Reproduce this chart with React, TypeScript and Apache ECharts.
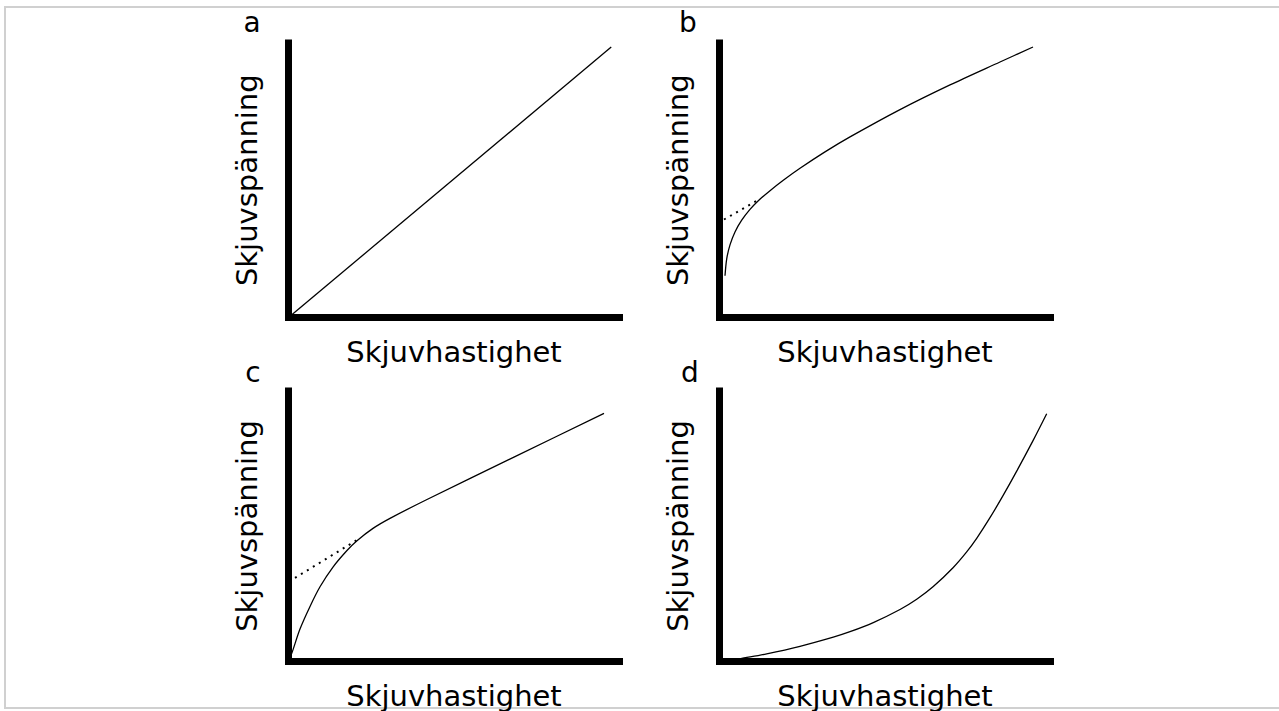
import React, { useEffect, useRef } from "react";
import * as echarts from "echarts";

const xAxisTitle = "Skjuvhastighet";
const yAxisTitle = "Skjuvspänning";
const panelLetters = ["a", "b", "c", "d"];

// Panel a: Newtonian (straight line)
const panelALine: number[][] = [
  [0, 0],
  [97.5, 98.5],
];

// Panel b: Herschel-Bulkley-like
const panelBCurve: number[][] = [
  [1.66, 15.19],
  [2.18, 21.38],
  [3.17, 26.45],
  [4.68, 31.18],
  [6.71, 35.45],
  [9.21, 39.38],
  [11.72, 42.55],
  [15.26, 46.19],
  [19.27, 49.98],
  [24.32, 54.35],
  [31.87, 60.33],
  [39.43, 65.79],
  [54.53, 75.74],
  [69.64, 84.74],
  [84.74, 93.08],
  [94.71, 98.54],
];
const panelBTangent: number[][] = [
  [1.36, 35.7],
  [11.72, 42.9],
];

// Panel c: Bingham-like (pseudoplastic then linear)
const panelCCurve: number[][] = [
  [0, 0],
  [1.06, 3.1],
  [3.47, 11.84],
  [6.5, 20.22],
  [9.52, 27.5],
  [13.44, 34.79],
  [17.67, 40.91],
  [20.69, 44.54],
  [25.53, 49.11],
  [30.66, 52.82],
  [41.84, 59.82],
  [68.58, 75.77],
  [95.32, 91.73],
];
const panelCTangent: number[][] = [
  [1.96, 30.78],
  [20.69, 44.81],
];

// Panel d: dilatant (shear thickening)
const panelDCurve: number[][] = [
  [3.0, 0],
  [6.19, 0.8],
  [14.26, 2.66],
  [24.32, 5.46],
  [34.38, 8.85],
  [39.43, 10.86],
  [46.46, 14.24],
  [54.53, 19.09],
  [59.58, 22.88],
  [64.59, 27.58],
  [70.63, 34.64],
  [74.68, 40.4],
  [77.7, 45.43],
  [81.72, 53.08],
  [85.74, 61.42],
  [89.79, 70.31],
  [94.8, 81.79],
  [98.85, 91.55],
];

const grids = [
  { left: 288.5, top: 43, width: 331, height: 274.5 },
  { left: 719.5, top: 43, width: 331, height: 274.5 },
  { left: 288.5, top: 391, width: 331, height: 274.5 },
  { left: 719.5, top: 391, width: 331, height: 274.5 },
];

const letterPos = [
  [252, 22],
  [688, 22],
  [253, 372],
  [690, 372],
];

const FONT = "DejaVu Sans";

export default function App() {
  const ref = useRef<HTMLDivElement>(null);
  useEffect(() => {
    if (!ref.current) return;
    const chart = echarts.init(ref.current, undefined, { renderer: "svg" });
    const axisLine = {
      show: true,
      onZero: false,
      lineStyle: { color: "#000", width: 7, cap: "square" },
    };
    const xAxes = grids.map((_, i) => ({
      type: "value",
      gridIndex: i,
      min: 0,
      max: 100,
      axisLine,
      axisTick: { show: false },
      axisLabel: { show: false },
      splitLine: { show: false },
      name: xAxisTitle,
      nameLocation: "middle",
      nameGap: 20,
      nameTextStyle: { fontFamily: FONT, fontSize: 29, color: "#000" },
    }));
    const yAxes = grids.map((_, i) => ({
      type: "value",
      gridIndex: i,
      min: 0,
      max: 100,
      axisLine,
      axisTick: { show: false },
      axisLabel: { show: false },
      splitLine: { show: false },
      name: yAxisTitle,
      nameLocation: "middle",
      nameGap: 27,
      nameTextStyle: { fontFamily: FONT, fontSize: 29, color: "#000" },
    }));
    const solid = { color: "#000", width: 1.3 };
    const dotted = { color: "#000", width: 2, type: [2, 5] };
    const mk = (i: number, data: number[][], style: any, smooth: any) => ({
      type: "line",
      xAxisIndex: i,
      yAxisIndex: i,
      data,
      showSymbol: false,
      symbol: "none",
      smooth,
      lineStyle: style,
      z: 1,
    });
    chart.setOption({
      animation: false,
      backgroundColor: "#fff",
      grid: grids,
      xAxis: xAxes,
      yAxis: yAxes,
      series: [
        mk(0, panelALine, solid, false),
        mk(1, panelBCurve, solid, 0.3),
        mk(1, panelBTangent, dotted, false),
        mk(2, panelCCurve, solid, 0.3),
        mk(2, panelCTangent, dotted, false),
        mk(3, panelDCurve, solid, 0.3),
      ],
      graphic: [
        {
          type: "rect",
          shape: { x: 5, y: 7, width: 1290, height: 701 },
          style: { fill: "none", stroke: "#d0d0d0", lineWidth: 2 },
          silent: true,
        },
        ...panelLetters.map((t, i) => ({
          type: "text",
          x: letterPos[i][0],
          y: letterPos[i][1],
          style: {
            text: t,
            fontFamily: FONT,
            fontSize: 28,
            fill: "#000",
            align: "center",
            verticalAlign: "middle",
          },
        })),
      ],
    });
    return () => chart.dispose();
  }, []);
  return (
    <div
      ref={ref}
      style={{ position: "absolute", left: 0, top: 0, width: 1279, height: 711 }}
    />
  );
}
